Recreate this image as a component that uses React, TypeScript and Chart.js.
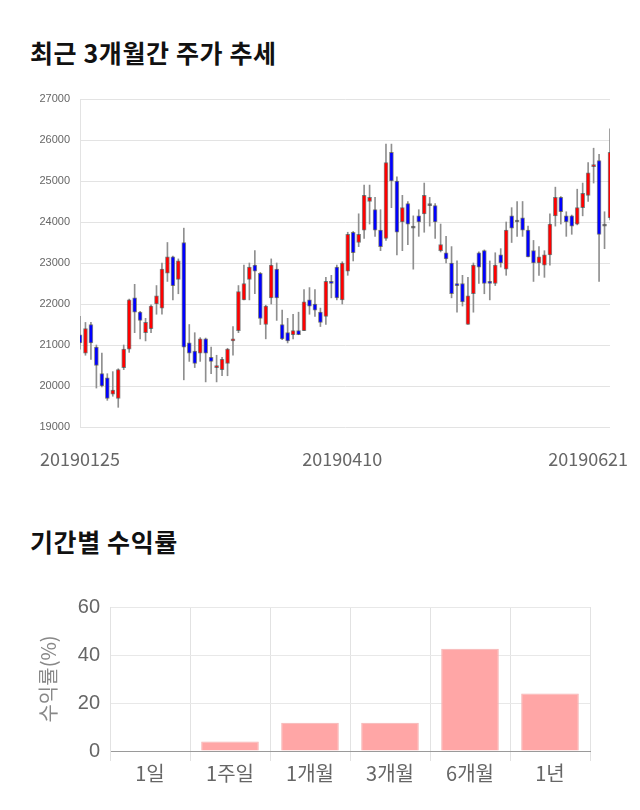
import React, { useEffect, useRef } from 'react';
import { Chart, registerables } from 'chart.js';

Chart.register(...registerables);

// ---- Price (candlestick) data ----
const opens = [
  21250, 20800, 21500, 20950, 20300, 20200, 19800, 19700, 20450, 20900,
  22150, 21800, 21300, 21400, 22000, 21900, 22750, 23150, 22600, 23500,
  21050, 20850, 20800, 21150, 20700, 20450, 20400, 20550, 21100, 21350,
  22100, 22600, 22950, 22750, 21500, 22150, 22850, 21500, 21300, 21250,
  21350, 21350, 22100, 22000, 21800, 21700, 22550, 22900, 22100, 22800,
  23750, 23500, 23800, 24500, 24300, 23800, 23600, 25700, 25000, 24000,
  24450, 23850, 24150, 24200, 24400, 24400, 23300, 23250, 23000, 22500,
  22500, 21500, 22250, 23250, 23300, 22550, 22500, 23200, 22850, 24150,
  24000, 24100, 23800, 23300, 23000, 22950, 23200, 24150, 24600, 24150,
  24150, 23950, 24350, 24650, 25350, 25500, 23900, 24100,
];
const highs = [
  21700, 21550, 21550, 21000, 20800, 20300, 20350, 20420, 21000, 22120,
  22480, 21820, 21650, 21980, 22450, 23000, 23500, 23170, 23100, 23850,
  21500, 21300, 21180, 21170, 20950, 20750, 20700, 20920, 21450, 22450,
  22950, 23000, 23300, 22770, 21970, 23100, 23000, 21850, 21650, 21750,
  21800, 22350, 22400, 22350, 21900, 22650, 22700, 22950, 23030, 23750,
  23770, 24200, 24900, 24900, 24600, 24300, 25900, 25900, 25100, 24650,
  24500, 24150, 24300, 24950, 24600, 24450, 23950, 23650, 23400, 23050,
  22700, 22650, 23000, 23270, 23320, 23050, 23250, 23350, 24000, 24350,
  24500, 24500, 23900, 23550, 23400, 23300, 24200, 24850, 24620, 24250,
  24170, 24800, 24950, 25450, 25800, 25650, 24250, 26270,
];
const lows = [
  20900, 20750, 20650, 19950, 19980, 19650, 19750, 19480, 20400, 20820,
  21300, 21150, 21100, 21300, 21750, 21750, 22550, 22100, 22250, 20150,
  20600, 20450, 20600, 20100, 20300, 20100, 20250, 20250, 20750, 21300,
  22100, 22100, 22250, 21500, 21150, 22000, 21600, 21130, 21050, 21150,
  21250, 21350, 21750, 21700, 21450, 21500, 22150, 22100, 22000, 22700,
  23050, 23400, 23600, 23950, 23650, 23300, 23550, 24350, 23200, 23300,
  23450, 22850, 23650, 23750, 23900, 23600, 23270, 23000, 22150, 21800,
  21950, 21500, 21800, 22500, 22250, 22100, 22450, 22900, 22700, 23500,
  23650, 23650, 23150, 22550, 22700, 22650, 22950, 23900, 23950, 23650,
  23700, 23930, 24150, 24500, 24950, 22550, 23350, 24050,
];
const closes = [
  21050, 21400, 21050, 20500, 20000, 19700, 19900, 20400, 20900, 22100,
  21800, 21600, 21550, 21950, 22200, 22850, 23150, 22450, 23050, 20950,
  20800, 20550, 21150, 20800, 20600, 20500, 20650, 20900, 21150, 22300,
  22500, 22900, 22800, 21650, 21950, 22950, 22150, 21150, 21100, 21350,
  21250, 22050, 21950, 21850, 21550, 22550, 22500, 22150, 23000, 23700,
  23250, 23700, 24650, 24600, 23800, 23400, 25450, 25000, 23750, 24350,
  23950, 23850, 24000, 24650, 24400, 24000, 23450, 23100, 22250, 22450,
  22050, 22200, 22950, 22900, 22500, 22500, 22950, 23000, 23800, 23850,
  24000, 23800, 23150, 23000, 23150, 23200, 23950, 24600, 24250, 24000,
  23900, 24350, 24700, 25200, 25400, 23700, 23900, 25700,
];
const priceTickIndex = [0, 48, 93];
const priceTickLabels = ['20190125', '20190410', '20190621'];
const priceYTicks = [19000, 20000, 21000, 22000, 23000, 24000, 25000, 26000, 27000];

// ---- Period returns data ----
const returnCategories = ['1일', '1주일', '1개월', '3개월', '6개월', '1년'];
const returnValues = [0, 4.0, 11.8, 11.8, 42.6, 24.0];
const returnYTicks = [0, 20, 40, 60];

const UP = '#ff0000';
const DOWN = '#0000ff';
const FLAT = '#555555';

function PriceChart() {
  const ref = useRef<HTMLCanvasElement | null>(null);
  useEffect(() => {
    if (!ref.current) return;
    const labels = opens.map((_, i) => String(i));
    const colors = opens.map((o, i) => (closes[i] > o ? UP : closes[i] < o ? DOWN : FLAT));
    const chart = new Chart(ref.current, {
      type: 'bar',
      data: {
        labels,
        datasets: [
          {
            data: opens.map((o, i) => [o, closes[i]]) as any,
            backgroundColor: colors,
            borderColor: 'rgba(40,40,40,0.55)',
            borderWidth: 1,
            borderSkipped: false,
            barThickness: 4,
            minBarLength: 2,
            grouped: false,
            order: 1,
          } as any,
          {
            data: lows.map((l, i) => [l, highs[i]]) as any,
            backgroundColor: '#8f8f8f',
            borderWidth: 0,
            barThickness: 1,
            grouped: false,
            order: 2,
          } as any,
        ],
      },
      options: {
        responsive: false,
        animation: false,
        layout: { padding: { top: 19, right: 30, left: 0, bottom: 0 } },
        plugins: { legend: { display: false }, tooltip: { enabled: false } },
        scales: {
          x: {
            offset: false,
            grid: { display: false, drawTicks: false },
            border: { display: false },
            afterFit: (s: any) => { s.height = 42; },
            ticks: {
              autoSkip: false,
              maxRotation: 0,
              padding: 21,
              color: '#666',
              font: { family: '"Noto Sans CJK KR", sans-serif', size: 18 },
              callback: (_v: any, i: number) => {
                const k = priceTickIndex.indexOf(i);
                return k >= 0 ? priceTickLabels[k] : '';
              },
            },
          },
          y: {
            min: priceYTicks[0],
            max: priceYTicks[priceYTicks.length - 1],
            afterFit: (s: any) => { s.width = 80; },
            afterBuildTicks: (s: any) => { s.ticks = priceYTicks.map((v) => ({ value: v })); },
            grid: { color: '#e3e3e3', drawTicks: false },
            border: { display: true, color: '#e3e3e3' },
            ticks: {
              padding: 10,
              color: '#666',
              font: { family: '"Liberation Sans", Arial, sans-serif', size: 11 },
              callback: (v: any) => String(v),
            },
          },
        },
      },
    });
    return () => chart.destroy();
  }, []);
  return <canvas ref={ref} width={640} height={389} style={{ display: 'block' }} />;
}

function ReturnChart() {
  const ref = useRef<HTMLCanvasElement | null>(null);
  useEffect(() => {
    if (!ref.current) return;
    const chart = new Chart(ref.current, {
      type: 'bar',
      data: {
        labels: returnCategories,
        datasets: [
          {
            data: returnValues,
            backgroundColor: '#ffa6a6',
            borderColor: '#f4b4b4',
            borderWidth: 1,
          },
        ],
      },
      options: {
        responsive: false,
        animation: false,
        layout: { padding: { top: 20, right: 50, left: 0, bottom: 19 } },
        plugins: { legend: { display: false }, tooltip: { enabled: false } },
        scales: {
          x: {
            afterFit: (s: any) => { s.height = 40; },
            grid: {
              color: (c: any) => (c.index === returnCategories.length ? 'rgba(0,0,0,0)' : '#e2e2e2'),
              tickLength: 10,
            },
            border: { display: true, color: '#9a9a9a' },
            ticks: {
              padding: 0,
              color: '#666',
              font: { family: '"Noto Sans CJK KR", sans-serif', size: 20 },
            },
          },
          y: {
            min: 0,
            max: 60,
            afterFit: (s: any) => { s.width = 110; },
            afterBuildTicks: (s: any) => { s.ticks = returnYTicks.map((v) => ({ value: v })); },
            grid: { color: '#e8e8e8', drawTicks: false },
            border: { display: true, color: '#e2e2e2' },
            title: {
              display: true,
              text: '수익률(%)',
              color: '#888',
              padding: { top: 36, bottom: 0 },
              font: { family: '"Noto Sans CJK KR", sans-serif', size: 20 },
            },
            ticks: {
              padding: 10,
              color: '#666',
              font: { family: '"Liberation Sans", Arial, sans-serif', size: 20 },
            },
          },
        },
      },
    });
    return () => chart.destroy();
  }, []);
  return <canvas ref={ref} width={640} height={225} style={{ display: 'block' }} />;
}

const titleStyle: React.CSSProperties = {
  position: 'absolute',
  left: 30,
  margin: 0,
  fontFamily: '"Noto Sans CJK KR", sans-serif',
  fontWeight: 700,
  fontSize: 25,
  letterSpacing: '0.6px',
  lineHeight: '26px',
  color: '#111',
  whiteSpace: 'nowrap',
};

export default function App() {
  return (
    <div style={{ position: 'absolute', left: 0, top: 0, width: 640, height: 810, background: '#fff', overflow: 'hidden' }}>
      <div style={{ ...titleStyle, top: 39 }}>최근 3개월간 주가 추세</div>
      <div style={{ position: 'absolute', left: 0, top: 80, width: 640, height: 389 }}>
        <PriceChart />
      </div>
      <div style={{ ...titleStyle, top: 528 }}>기간별 수익률</div>
      <div style={{ position: 'absolute', left: 0, top: 585, width: 640, height: 225 }}>
        <ReturnChart />
      </div>
    </div>
  );
}
